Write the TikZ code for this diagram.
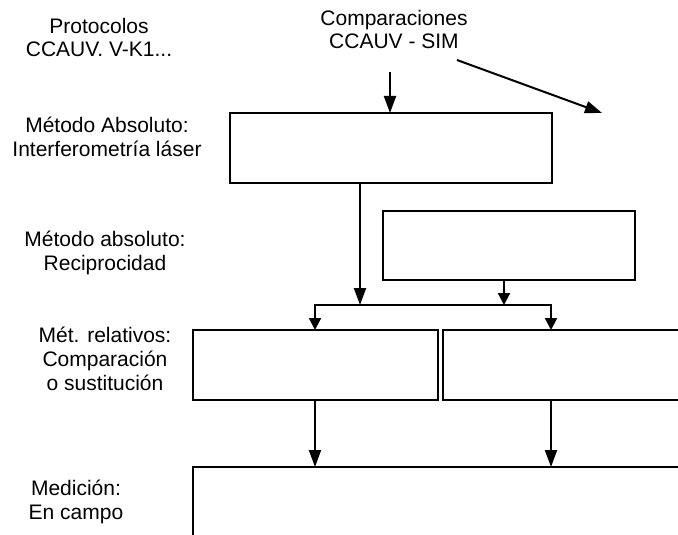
\documentclass[tikz,border=0pt]{standalone}
\usepackage{fontspec}
\setmainfont{Liberation Sans}
\usetikzlibrary{arrows.meta}
\begin{document}
\begin{tikzpicture}[x=1pt,y=-1pt,
  box/.style={draw,line width=2pt,rectangle,inner sep=0pt,outer sep=0pt},
  lbl/.style={anchor=base,inner sep=0pt,align=center,font=\fontsize{21}{24}\selectfont},
  arr/.style={line width=2pt,-{Triangle[length=17pt,width=12pt]}},
  sarr/.style={line width=2pt,-{Triangle[length=12pt,width=12pt]}}]
\useasboundingbox (0,0) rectangle (678,535);
\clip (0,0) rectangle (678,535);
% labels (anchored at the baseline of the last line)
\node[lbl] (lprot) at (99,57) {Protocolos\\CCAUV. V-K1...};
\node[lbl] (lcomp) at (394,49) {Comparaciones\\CCAUV - SIM};
\node[lbl] (labs1) at (107,156) {Método Absoluto:\\Interferometría láser};
\node[lbl] (labs2) at (105,270) {Método absoluto:\\Reciprocidad};
\node[lbl] (lrel) at (105,390) {Mét. relativos:\\Comparación\\o sustitución};
\node[lbl] (lmed) at (76,519) {Medición:\\En campo};
% boxes
\node[box,minimum width=322pt,minimum height=70pt] (b1) at (391,148) {};
\node[box,minimum width=252pt,minimum height=69pt] (b2) at (509,245.5) {};
\node[box,minimum width=245pt,minimum height=70pt] (b3) at (315.5,365) {};
\node[box,minimum width=277pt,minimum height=70pt] (b4) at (581.5,365) {};
\node[box,minimum width=527pt,minimum height=113pt] (b5) at (456.5,523.5) {};
% coordinates
\coordinate (t1) at (390,72);
\coordinate (d1) at (457,60);
\coordinate (d2) at (602,113);
\coordinate (jL) at (315,305);
\coordinate (jR) at (551,305);
\coordinate (j1) at (360,305);
\coordinate (j2) at (504,305);
% connectors
\draw[arr] (t1) -- (t1 |- b1.north);
\draw[arr] (d1) -- (d2);
\draw[arr] (j1 |- b1.south) -- (j1);
\draw[sarr] (j2 |- b2.south) -- (j2);
\draw[sarr,line join=miter] (j1) -| (jL |- b3.north);
\draw[sarr,line join=miter] (j1) -| (jR |- b4.north);
\draw[arr] (jL |- b3.south) -- (jL |- b5.north);
\draw[arr] (jR |- b4.south) -- (jR |- b5.north);
\end{tikzpicture}
\end{document}
